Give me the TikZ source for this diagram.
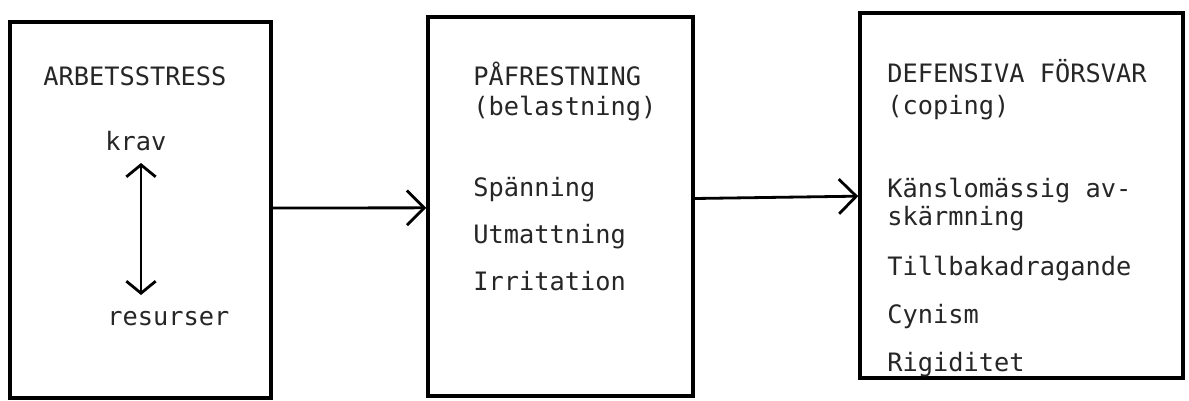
\documentclass[tikz,border=0pt]{standalone}
\usepackage{fontspec}
\newfontfamily\tw{DejaVu Sans Mono}
\usetikzlibrary{arrows.meta}
\tikzset{
  box/.style={draw=black, line width=2.6pt, inner sep=0pt},
  txt/.style={anchor=base west, inner sep=0pt, font=\tw\fontsize{19}{23}\selectfont, text=black!85},
  flow/.style={line width=2.1pt, -{Straight Barb[length=13pt,width=26pt,line width=2.1pt]}},
  twoway/.style={line width=2.1pt, {Straight Barb[length=9pt,width=22pt,line width=2.1pt]}-{Straight Barb[length=9pt,width=22pt,line width=2.1pt]}}
}
\begin{document}
\begin{tikzpicture}[x=0.75pt,y=-0.75pt]
\useasboundingbox (0,0) rectangle (1189,400);
% boxes
\node[box, minimum width=261*0.75pt, minimum height=376*0.75pt] (stress) at (140.5,210) {};
\node[box, minimum width=265*0.75pt, minimum height=379*0.75pt] (strain) at (560.5,206.5) {};
\node[box, minimum width=323*0.75pt, minimum height=365*0.75pt] (coping) at (1021.5,195.5) {};
% left box text
\node[txt] (t1) at (43,85) {ARBETSSTRESS};
\node[txt] (krav) at (105,150) {krav};
\node[txt] (res) at (107,325) {resurser};
\coordinate (dtop) at (141,163);
\coordinate (dbot) at (141,295);
\draw[twoway] (dtop) -- (dbot);
% middle box text
\node[txt] (m1) at (473,85) {PÅFRESTNING};
\node[txt] (m2) at (473,115) {(belastning)};
\node[txt] (m3) at (473,196) {Spänning};
\node[txt] (m4) at (473,243) {Utmattning};
\node[txt] (m5) at (473,290) {Irritation};
% right box text
\node[txt] (r1) at (887,82) {DEFENSIVA FÖRSVAR};
\node[txt] (r2) at (887,114) {(coping)};
\node[txt] (r3) at (887,197) {Känslomässig av-};
\node[txt] (r4) at (887,225) {skärmning};
\node[txt] (r5) at (887,275) {Tillbakadragande};
\node[txt] (r6) at (887,323) {Cynism};
\node[txt] (r7) at (887,371) {Rigiditet};
% connectors
\draw[flow] ([yshift=1.5pt]stress.east) -- ([yshift=-1pt]strain.west);
\draw[flow] ([yshift=6pt]strain.east) -- ([yshift=-0.5pt]coping.west);
\end{tikzpicture}
\end{document}
